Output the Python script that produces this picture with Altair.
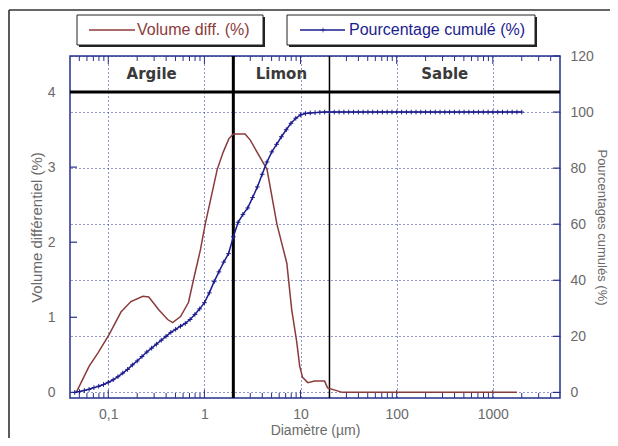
import altair as alt
import pandas as pd
import math

# ---------------- data ----------------
vol_d = [0.0465, 0.0633, 0.0785, 0.102, 0.1356, 0.172, 0.229, 0.264, 0.335, 0.415,
         0.467, 0.565, 0.684, 0.77, 0.91, 1.02, 1.36, 1.57, 1.80, 2.0, 2.65, 3.0,
         3.53, 4.48, 5.68, 7.2, 8.1, 9.14, 9.8, 10.5, 11.9, 14.0, 17.8, 19.1, 24.2,
         27.3, 1783]
vol_v = [0.0, 0.35, 0.53, 0.77, 1.07, 1.21, 1.28, 1.27, 1.10, 0.97,
         0.93, 1.01, 1.20, 1.50, 1.90, 2.24, 2.97, 3.20, 3.38, 3.44, 3.44, 3.36,
         3.20, 2.97, 2.24, 1.72, 1.10, 0.67, 0.35, 0.20, 0.13, 0.15, 0.15, 0.06, 0.02,
         0.0, 0.0]

cum_d = [0.0448, 0.0502, 0.0564, 0.0632, 0.0710, 0.0796, 0.0893, 0.1002, 0.1125, 0.1262,
         0.1416, 0.1589, 0.1783, 0.2000, 0.2244, 0.2518, 0.2825, 0.3170, 0.3557, 0.3991,
         0.4477, 0.5024, 0.5637, 0.6325, 0.7096, 0.7962, 0.8934, 1.002, 1.125, 1.262,
         1.416, 1.589, 1.783, 2.000, 2.244, 2.518, 2.825, 3.170, 3.557, 3.991,
         4.477, 5.024, 5.637, 6.325, 7.096, 7.962, 8.934, 10.02, 11.25, 12.62,
         14.16, 15.89, 17.83, 20.00, 22.44, 25.18, 28.25, 31.70, 35.57, 39.91,
         44.77, 50.24, 56.37, 63.25, 70.96, 79.62, 89.34, 100.2, 112.5, 126.2,
         141.6, 158.9, 178.3, 200.0, 224.4, 251.8, 282.5, 317.0, 355.7, 399.1,
         447.7, 502.4, 563.7, 632.5, 709.6, 796.2, 893.4, 1002, 1125, 1262,
         1416, 1589, 1783, 2000]
cum_w = [0.0, 0.3, 0.7, 1.1, 1.7, 2.2, 2.8, 3.6, 4.5, 5.6,
         6.9, 8.2, 9.8, 11.2, 12.8, 14.4, 15.8, 17.2, 18.6, 20.0,
         21.4, 22.5, 23.6, 24.6, 26.0, 27.8, 29.8, 32.0, 35.5, 39.5,
         43.0, 46.5, 49.5, 55.5, 60.7, 63.5, 65.8, 69.5, 73.3, 77.8,
         82.2, 85.8, 88.5, 91.2, 93.7, 96.0, 97.8, 99.0, 99.5, 99.7,
         99.8, 99.9, 100, 100, 100, 100, 100, 100, 100, 100,
         100, 100, 100, 100, 100, 100, 100, 100, 100, 100,
         100, 100, 100, 100, 100, 100, 100, 100, 100, 100,
         100, 100, 100, 100, 100, 100, 100, 100, 100, 100,
         100, 100, 100, 100]

classes = ["Argile", "Limon", "Sable"]
class_bounds = [0.04, 2, 20, 5000]
band_floor = [4]

x_major = [0.1, 1, 10, 100, 1000]
x_minor = [0.05, 0.06, 0.07, 0.08, 0.09,
           0.2, 0.3, 0.4, 0.5, 0.6, 0.7, 0.8, 0.9,
           2, 3, 4, 5, 6, 7, 8, 9,
           20, 30, 40, 50, 60, 70, 80, 90,
           200, 300, 400, 500, 600, 700, 800, 900,
           2000, 3000, 4000]
left_ticks = [0, 1, 2, 3, 4]
right_ticks = [0, 20, 40, 60, 80, 100, 120]

series_names = ["Volume diff. (%)", "Pourcentage cumulé (%)"]
axis_titles = ["Diamètre (µm)", "Volume différentiel (%)", "Pourcentages cumulés (%)"]

# ---------------- styles ----------------
NAVY = "#26308c"
BLUE = "#1c1c8e"
BROWN = "#8b3b3b"
GREY = "#6a6a6a"
FONT = "Liberation Sans"
CROSS = "M-1,0L1,0M0,-1L0,1"
W, H = 490, 342

xs = alt.Scale(type="log", domain=[0.04, 5000], nice=False)
yv = alt.Scale(domain=[-0.075, 4.48], nice=False, zero=False)
yc = alt.Scale(domain=[-2, 120], nice=False, zero=False)

xax = alt.Axis(values=x_major,
               labelExpr="datum.value < 1 ? replace(format(datum.value, '.1f'), '.', ',') : format(datum.value, 'd')",
               grid=True, gridDash=[1, 3], gridColor=NAVY, gridWidth=1,
               ticks=False, domain=False, labelPadding=9, labelFontSize=14,
               labelColor=GREY, labelFont=FONT, title=axis_titles[0],
               titleFont=FONT, titleFontSize=14, titleFontWeight="normal",
               titleColor=GREY, titlePadding=2)
left_ax = alt.Axis(values=left_ticks, format="d", orient="left", grid=False,
                   ticks=False, domain=False, labelPadding=15, labelFontSize=14,
                   labelColor=GREY, labelFont=FONT, title=axis_titles[1],
                   titleFont=FONT, titleFontSize=15, titleFontWeight="normal",
                   titleColor=GREY, titlePadding=3)
right_ax = alt.Axis(values=right_ticks, format="d", orient="right", grid=True,
                    gridDash=[1, 3], gridColor=NAVY, gridWidth=1,
                    ticks=False, domain=False, labelPadding=10, labelFontSize=14,
                    labelColor=GREY, labelFont=FONT, title=axis_titles[2],
                    titleFont=FONT, titleFontSize=13, titleFontWeight="normal",
                    titleColor=GREY, titlePadding=1)


def X():
    return alt.X("d:Q", scale=xs, axis=xax)


dummy = alt.Data(values=[{"k": 0}])

vol_df = pd.DataFrame({"d": vol_d, "v": vol_v})
cum_df = pd.DataFrame({"d": cum_d, "w": cum_w})
centers = [math.sqrt(class_bounds[i] * class_bounds[i + 1]) for i in range(len(classes))]
cls_df = pd.DataFrame({"d": centers, "name": classes})

layers = []

# inward ticks on the frame
layers.append(alt.Chart(pd.DataFrame({"d": x_major})).mark_rule(color=NAVY, strokeWidth=1)
              .encode(x=X(), y=alt.value(H), y2=alt.value(H - 8)))
layers.append(alt.Chart(pd.DataFrame({"d": x_minor})).mark_rule(color=NAVY, strokeWidth=1)
              .encode(x=X(), y=alt.value(H), y2=alt.value(H - 5)))
layers.append(alt.Chart(pd.DataFrame({"d": x_major})).mark_rule(color=NAVY, strokeWidth=1)
              .encode(x=X(), y=alt.value(0), y2=alt.value(8)))
layers.append(alt.Chart(pd.DataFrame({"d": x_minor})).mark_rule(color=NAVY, strokeWidth=1)
              .encode(x=X(), y=alt.value(0), y2=alt.value(5)))
layers.append(alt.Chart(pd.DataFrame({"v": left_ticks})).mark_rule(color=NAVY, strokeWidth=1.2)
              .encode(y=alt.Y("v:Q", scale=yv, axis=None), x=alt.value(0), x2=alt.value(7)))
layers.append(alt.Chart(pd.DataFrame({"w": right_ticks})).mark_rule(color=NAVY, strokeWidth=1.2)
              .encode(y=alt.Y("w:Q", scale=yc, axis=None), x=alt.value(W - 7), x2=alt.value(W)))

# class boundaries and header band
layers.append(alt.Chart(pd.DataFrame({"v": band_floor})).mark_rule(color="black", strokeWidth=3)
              .encode(y=alt.Y("v:Q", scale=yv, axis=None)))
layers.append(alt.Chart(pd.DataFrame({"d": [class_bounds[1]]})).mark_rule(color="black", strokeWidth=3)
              .encode(x=X()))
layers.append(alt.Chart(pd.DataFrame({"d": [class_bounds[2]]})).mark_rule(color="black", strokeWidth=1.5)
              .encode(x=X()))
layers.append(alt.Chart(cls_df).mark_text(font="DejaVu Sans", fontWeight="bold", fontSize=15,
                                          color="#3a3a3a", baseline="middle")
              .encode(x=X(), y=alt.value(18), text="name:N"))

# curves
layers.append(alt.Chart(vol_df).mark_line(color=BROWN, strokeWidth=1.5)
              .encode(x=X(), y=alt.Y("v:Q", scale=yv, axis=left_ax)))
layers.append(alt.Chart(cum_df).mark_line(color=BLUE, strokeWidth=1.5,
                                          point=alt.OverlayMarkDef(shape=CROSS, size=22, filled=False,
                                                                   color=BLUE, strokeWidth=1))
              .encode(x=X(), y=alt.Y("w:Q", scale=yc, axis=right_ax)))

# outer frame (left & top)
layers.append(alt.Chart(dummy).mark_rule(color="#333333", strokeWidth=1.6)
              .encode(x=alt.value(-61), y=alt.value(-46), y2=alt.value(H + 40)))
layers.append(alt.Chart(dummy).mark_rule(color="#333333", strokeWidth=1.6)
              .encode(x=alt.value(-61), x2=alt.value(W + 50), y=alt.value(-46)))


# legend boxes
def legend_box(x0, x1):
    shadow = alt.Chart(dummy).mark_rect(color="#222222").encode(
        x=alt.value(x0 + 2), x2=alt.value(x1 + 2), y=alt.value(-39), y2=alt.value(-9))
    box = alt.Chart(dummy).mark_rect(fill="white", stroke="#222222", strokeWidth=1).encode(
        x=alt.value(x0), x2=alt.value(x1), y=alt.value(-41), y2=alt.value(-11))
    return [shadow, box]


layers += legend_box(7, 193)
layers.append(alt.Chart(dummy).mark_rule(color=BROWN, strokeWidth=1.5)
              .encode(x=alt.value(19), x2=alt.value(65), y=alt.value(-26)))
layers.append(alt.Chart(dummy).mark_text(align="left", baseline="middle", font=FONT, fontSize=16, color=BROWN)
              .encode(x=alt.value(67), y=alt.value(-26), text=alt.value(series_names[0])))

layers += legend_box(217, 465)
layers.append(alt.Chart(dummy).mark_rule(color=BLUE, strokeWidth=1.5)
              .encode(x=alt.value(230), x2=alt.value(275), y=alt.value(-26)))
layers.append(alt.Chart(dummy).mark_point(shape=CROSS, size=22, filled=False, color=BLUE, strokeWidth=1)
              .encode(x=alt.value(253), y=alt.value(-26)))
layers.append(alt.Chart(dummy).mark_text(align="left", baseline="middle", font=FONT, fontSize=16, color=BLUE)
              .encode(x=alt.value(279), y=alt.value(-26), text=alt.value(series_names[1])))

chart = (alt.layer(*layers)
         .resolve_scale(y="independent")
         .properties(width=W, height=H,
                     padding={"left": 62, "top": 48, "right": 50, "bottom": 40},
                     autosize=alt.AutoSizeParams(type="none"),
                     background="white")
         .configure_view(stroke=NAVY, strokeWidth=1.5))

chart.save("out.html", embed_options={"renderer": "svg", "actions": False})
